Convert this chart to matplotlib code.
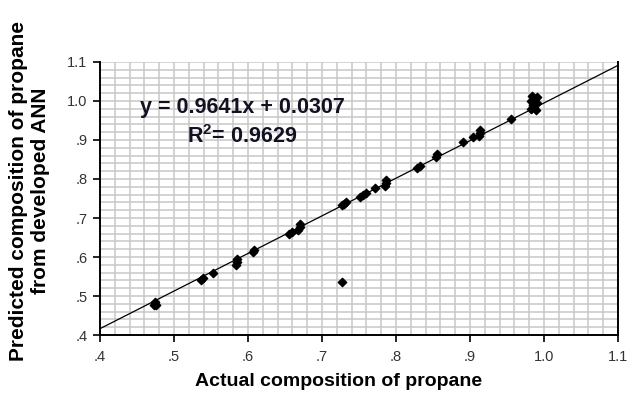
import numpy as np
import matplotlib.pyplot as plt

plt.rcParams['font.family'] = ['Liberation Sans', 'DejaVu Sans']
plt.rcParams['mathtext.fontset'] = 'custom'
plt.rcParams['mathtext.rm'] = 'Liberation Sans'
plt.rcParams['mathtext.bf'] = 'Liberation Sans:bold'

# data
actual = [0.473, 0.475, 0.474, 0.476, 0.537, 0.539, 0.553, 0.584, 0.585, 0.585,
          0.607, 0.608, 0.656, 0.660, 0.668, 0.670, 0.670, 0.727, 0.730, 0.733,
          0.751, 0.755, 0.760, 0.772, 0.785, 0.786, 0.786, 0.828, 0.832, 0.854,
          0.856, 0.890, 0.904, 0.912, 0.913, 0.913, 0.955, 0.982, 0.985, 0.987,
          0.988, 0.990, 0.984, 0.986, 0.989, 0.983, 0.991, 0.727]
predicted = [0.476, 0.480, 0.484, 0.478, 0.542, 0.545, 0.560, 0.580, 0.588, 0.594,
             0.612, 0.618, 0.660, 0.664, 0.668, 0.677, 0.684, 0.733, 0.736, 0.740,
             0.754, 0.758, 0.765, 0.777, 0.782, 0.790, 0.797, 0.828, 0.834, 0.856,
             0.864, 0.896, 0.908, 0.910, 0.918, 0.926, 0.954, 0.980, 0.990, 0.998,
             1.005, 1.010, 1.012, 0.985, 0.978, 1.000, 0.995, 0.537]
slope, intercept = 0.9641, 0.0307
r2 = 0.9629
xticks = [0.4, 0.5, 0.6, 0.7, 0.8, 0.9, 1.0, 1.1]
xticklabels = ['.4', '.5', '.6', '.7', '.8', '.9', '1.0', '1.1']

fig = plt.figure(figsize=(6.3, 3.97), dpi=100)
ax = fig.add_axes([0.1587, 0.156, 0.8223, 0.688])

ax.set_xlim(0.4, 1.1)
ax.set_ylim(0.4, 1.1)

# grid every 0.02
for g in np.arange(0.42, 1.101, 0.02):
    ax.axvline(g, color='#c8c8c8', lw=1.1, zorder=0)
    ax.axhline(g, color='#c8c8c8', lw=1.1, zorder=0)

xl = np.array([0.4, 1.1])
ax.plot(xl, slope * xl + intercept, color='black', lw=0.9, zorder=2)
ax.scatter(actual, predicted, marker='D', s=18, color='black', zorder=3)

ax.set_xticks(xticks)
ax.set_xticklabels(xticklabels)
ax.set_yticks(xticks)
ax.set_yticklabels(xticklabels)
ax.tick_params(length=5, width=1.2, labelsize=10.5, labelcolor='#333333')
ax.tick_params(axis='x', pad=6)
ax.tick_params(axis='y', pad=4)
ax.spines['top'].set_visible(False)
for s in ['left', 'bottom', 'right']:
    ax.spines[s].set_linewidth(1.4)

ax.text(0.592, 0.982, 'y = %.4fx + %.4f' % (slope, intercept), ha='center', va='center',
        fontsize=15.5, fontweight='bold', color='#111122')
ax.text(0.592, 0.908, r'R$^{\mathbf{2}}$= %.4f' % r2, ha='center', va='center',
        fontsize=15.5, fontweight='bold', color='#111122')

fig.text(0.537, 0.038, 'Actual composition of propane', ha='center', va='center',
         fontsize=14, fontweight='bold')
fig.text(0.047, 0.52, 'Predicted composition of propane\nfrom developed ANN', rotation=90,
         ha='center', va='center', fontsize=15, fontweight='bold', linespacing=1.15)

fig.savefig('out.png', dpi=100)
